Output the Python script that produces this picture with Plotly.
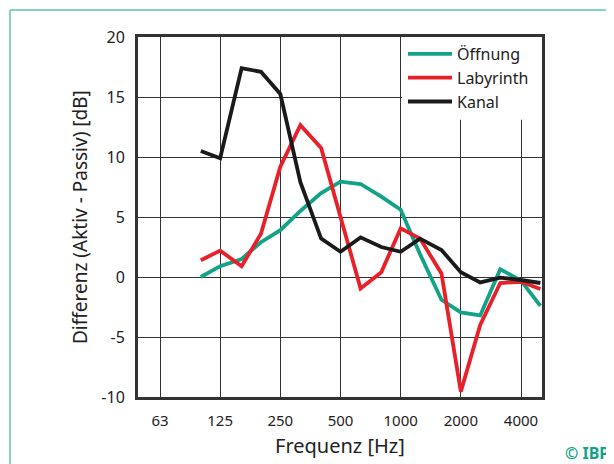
import math
import plotly.graph_objects as go

# Third-octave band centre frequencies [Hz]
freq = [100, 125, 160, 200, 250, 315, 400, 500, 630, 800, 1000, 1250, 1600, 2000, 2500, 3150, 4000, 5000]

oeffnung = [0.0, 0.9, 1.5, 2.9, 3.9, 5.5, 7.0, 7.95, 7.75, 6.7, 5.6, 1.9, -1.9, -2.95, -3.2, 0.65, -0.3, -2.4]
labyrinth = [1.4, 2.2, 0.9, 3.6, 9.2, 12.65, 10.75, 5.0, -0.95, 0.4, 4.05, 3.2, 0.3, -9.55, -4.0, -0.5, -0.4, -1.0]
kanal = [10.5, 9.9, 17.4, 17.1, 15.25, 7.9, 3.2, 2.1, 3.3, 2.5, 2.1, 3.2, 2.25, 0.4, -0.45, -0.05, -0.25, -0.5]

x_tickvals = [62.5, 125, 250, 500, 1000, 2000, 4000]
x_ticktext = ["63", "125", "250", "500", "1000", "2000", "4000"]
y_tickvals = [-10, -5, 0, 5, 10, 15, 20]
y_ticktext = ["-10", "-5", "0", "5", "10", "15", "20"]

TEAL = "#12a288"
RED = "#e8202a"
BLACK = "#1a1a1a"
FONT = "Noto Sans"

# page offset from default body margin
OFF = 8
W, H = 614 - OFF, 464 - OFF
L, T = 138 - OFF, 37 - OFF
pw, ph = 404, 360
R, B = W - L - pw, H - T - ph

def px_x(p):
    return (p - OFF - L) / pw

def px_y(p):
    return (T + ph - (p - OFF)) / ph

fig = go.Figure()
for name, vals, col in [("Öffnung", oeffnung, TEAL), ("Labyrinth", labyrinth, RED), ("Kanal", kanal, BLACK)]:
    fig.add_trace(go.Scatter(x=freq, y=vals, mode="lines", name=name,
                             line=dict(color=col, width=3.8)))

xr = [math.log10(62.5) - 0.3656 * math.log10(2), math.log10(4000) + 0.349 * math.log10(2)]

fig.update_layout(
    width=W, height=H,
    margin=dict(l=L, r=R, t=T, b=B, pad=0),
    paper_bgcolor="white", plot_bgcolor="white",
    font=dict(family=FONT, color="#222", size=15),
    showlegend=True,
    legend=dict(x=px_x(403), y=px_y(37), xanchor="left", yanchor="top",
                bgcolor="rgba(0,0,0,0)", font=dict(size=16, family=FONT, color="#222"),
                itemwidth=44, tracegroupgap=0),
    xaxis=dict(type="log", range=xr, tickvals=x_tickvals, ticktext=x_ticktext,
               showgrid=True, gridcolor="#333", gridwidth=1.4,
               showline=True, linecolor="#333", linewidth=3, mirror=True,
               ticks="", ticklabelstandoff=8, zeroline=False,
               tickfont=dict(size=15, family=FONT, color="#222")),
    yaxis=dict(range=[-10, 20], tickvals=y_tickvals, ticktext=y_ticktext,
               showgrid=True, gridcolor="#333", gridwidth=1.4,
               showline=True, linecolor="#333", linewidth=3, mirror=True,
               ticks="", ticklabelstandoff=7, zeroline=False,
               tickfont=dict(size=16, family=FONT, color="#222")),
)

# White legend box covering the grid
fig.add_shape(type="rect", xref="x", yref="y",
              x0=1000 * 2 ** 0.025, x1=10 ** xr[1], y0=13.1, y1=20,
              fillcolor="white", line=dict(width=0), layer="between")

# Teal frame lines
fig.add_shape(type="line", xref="paper", yref="paper",
              x0=px_x(10), x1=px_x(620), y0=px_y(10), y1=px_y(10),
              line=dict(color="#5cc6ad", width=1.5))
fig.add_shape(type="line", xref="paper", yref="paper",
              x0=px_x(10), x1=px_x(10), y0=px_y(10), y1=px_y(470),
              line=dict(color="#5cc6ad", width=1.5))

# Axis titles
fig.add_annotation(text="Frequenz [Hz]", xref="paper", yref="paper",
                   x=px_x(340), y=px_y(445), showarrow=False,
                   font=dict(size=20, family=FONT, color="#222"),
                   xanchor="center", yanchor="middle")
fig.add_annotation(text="Differenz (Aktiv - Passiv) [dB]", xref="paper", yref="paper",
                   x=px_x(80), y=px_y(217), showarrow=False, textangle=-90,
                   font=dict(size=19, family=FONT, color="#222"),
                   xanchor="center", yanchor="middle")
fig.add_annotation(text="<b>© IBP</b>", xref="paper", yref="paper",
                   x=px_x(611), y=px_y(453), showarrow=False,
                   font=dict(size=16, family=FONT, color=TEAL),
                   xanchor="right", yanchor="middle")

fig.write_html("out.html")
